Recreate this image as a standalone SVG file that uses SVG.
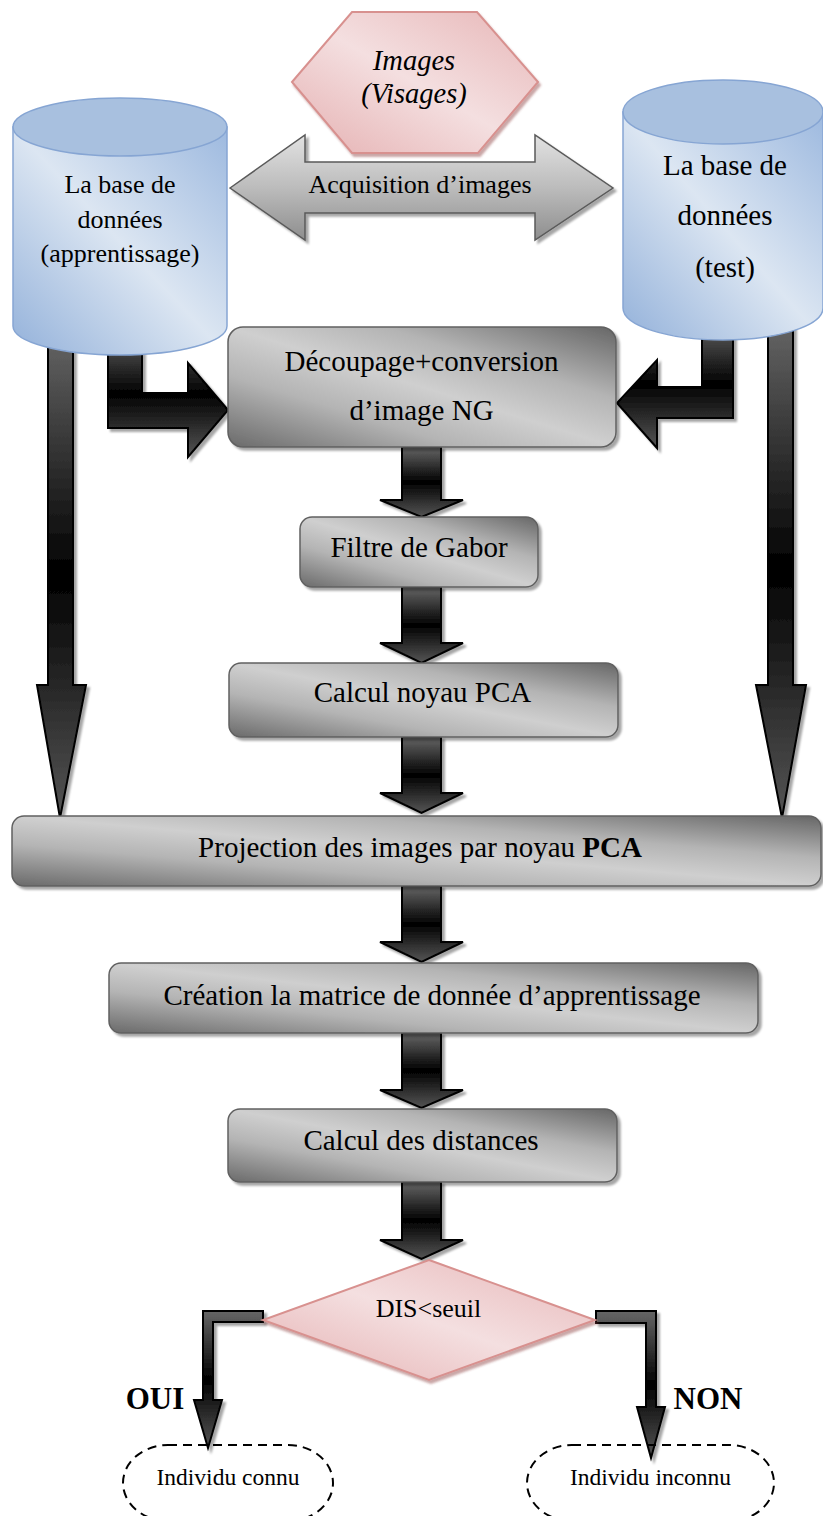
<svg xmlns="http://www.w3.org/2000/svg" width="823" height="1516" viewBox="0 0 823 1516">
<style>
text{font-family:"Liberation Serif","Times New Roman",serif;fill:#000;text-anchor:middle}
.box{fill:url(#boxGrad);stroke:#606060;stroke-width:1.5;filter:url(#sh)}
.blk{fill:url(#arrGrad);stroke:#000;stroke-width:2;stroke-linejoin:miter;filter:url(#sh)}
.cyl{fill:url(#cylGrad);stroke:#86a5d3;stroke-width:1.5}
.cyltop{fill:#a8c0df;stroke:#86a5d3;stroke-width:1.5}
.pink{fill:url(#pinkGrad);stroke:#d8918f;stroke-width:2;filter:url(#shr)}
.dash{fill:none;stroke:#000;stroke-width:2;stroke-dasharray:9 6}
.t29{font-size:29px}
.t26{font-size:26px}
</style>
<defs>
<linearGradient id="boxGrad" x1="0" y1="1" x2="1" y2="0">
<stop offset="0" stop-color="#6a6a6a"/>
<stop offset="0.3" stop-color="#b4b4b4"/>
<stop offset="0.5" stop-color="#cfcfcf"/>
<stop offset="0.7" stop-color="#b4b4b4"/>
<stop offset="1" stop-color="#666666"/>
</linearGradient>
<linearGradient id="arrGrad" x1="0" y1="0" x2="0" y2="1">
<stop offset="0" stop-color="#666666"/>
<stop offset="0.42" stop-color="#111111"/>
<stop offset="0.5" stop-color="#000000"/>
<stop offset="1" stop-color="#555555"/>
</linearGradient>
<linearGradient id="dblGrad" x1="0" y1="0" x2="0" y2="1">
<stop offset="0" stop-color="#e2e2e2"/>
<stop offset="0.5" stop-color="#bcbcbc"/>
<stop offset="1" stop-color="#8e8e8e"/>
</linearGradient>
<linearGradient id="cylGrad" x1="0" y1="1" x2="1" y2="0">
<stop offset="0" stop-color="#93b1da"/>
<stop offset="0.5" stop-color="#dce6f2"/>
<stop offset="1" stop-color="#9db9df"/>
</linearGradient>
<linearGradient id="pinkGrad" x1="0" y1="1" x2="1" y2="0">
<stop offset="0" stop-color="#e5b0b1"/>
<stop offset="0.5" stop-color="#f4dfe0"/>
<stop offset="1" stop-color="#e7b6b7"/>
</linearGradient>
<filter id="sh" x="-10%" y="-10%" width="130%" height="130%">
<feDropShadow dx="3" dy="3" stdDeviation="1.2" flood-color="#000" flood-opacity="0.35"/>
</filter>
<filter id="shr" x="-10%" y="-10%" width="130%" height="130%">
<feDropShadow dx="2" dy="3" stdDeviation="1" flood-color="#8a3a3a" flood-opacity="0.45"/>
</filter>
</defs>

<g id="connectors">
<!-- acquisition double arrow -->
<g id="acquisition">
<polygon points="230,188 305,135 305,162 535,162 535,135 613,188 535,240 535,213 305,213 305,240" fill="url(#dblGrad)" stroke="#5a5a5a" stroke-width="1.5" filter="url(#sh)"/>
<text class="t26" x="420" y="193">Acquisition d’images</text>
</g>
<!-- long side arrows -->
<polygon class="blk" points="48,330 73,330 73,685 86,685 60,818 37,685 48,685"/>
<polygon class="blk" points="768,320 793,320 793,685 806,685 782,818 756,685 768,685"/>
<!-- L arrows into box 1 -->
<polygon class="blk" points="108,330 108,428 188,428 188,457 228,410 188,363 188,393 142,393 142,330"/>
<polygon class="blk" points="733,320 733,418 657,418 657,448 617,403 657,360 657,387 702,387 702,320"/>
<!-- central chain -->
<polygon class="blk" points="402,447 441,447 441,500 463,500 421.5,517 380,500 402,500"/>
<polygon class="blk" points="402,587 441,587 441,643 463,643 421.5,663 380,643 402,643"/>
<polygon class="blk" points="402,737 441,737 441,793 463,793 421.5,813 380,793 402,793"/>
<polygon class="blk" points="402,886 441,886 441,942 463,942 421.5,962 380,942 402,942"/>
<polygon class="blk" points="402,1033 441,1033 441,1090 463,1090 421.5,1108 380,1090 402,1090"/>
<polygon class="blk" points="402,1182 441,1182 441,1240 463,1240 421.5,1259 380,1240 402,1240"/>
<!-- decision branches -->
<polygon class="blk" points="263,1311 203,1311 203,1400 194,1400 208,1448 222,1400 213,1400 213,1322 263,1322"/>
<polygon class="blk" points="596,1311 656,1311 656,1407 665,1407 651,1458 637,1407 646,1407 646,1323 596,1323"/>
<text x="155" y="1409" font-size="31" font-weight="bold">OUI</text>
<text x="708" y="1409" font-size="31" font-weight="bold">NON</text>
</g>

<g id="images">
<polygon class="pink" points="292,82 352,12 477,12 538,82 478,153 352,153"/>
<text x="414" y="70" font-size="28.5" font-style="italic">Images</text>
<text x="414" y="103" font-size="28.5" font-style="italic">(Visages)</text>
</g>

<g id="base-apprentissage">
<path class="cyl" d="M13,127 V326 A107,29 0 0 0 227,326 V127 Z"/>
<ellipse class="cyltop" cx="120" cy="127" rx="107" ry="29"/>
<text class="t26" x="120" y="193">La base de</text>
<text class="t26" x="120" y="228">données</text>
<text class="t26" x="120" y="262">(apprentissage)</text>
</g>

<g id="base-test">
<path class="cyl" d="M623,112 V308 A100,32 0 0 0 823,308 V112 Z"/>
<ellipse class="cyltop" cx="723" cy="112" rx="100" ry="32"/>
<text class="t29" x="725" y="175">La base de</text>
<text class="t29" x="725" y="225">données</text>
<text class="t29" x="725" y="277">(test)</text>
</g>

<g id="decoupage">
<rect class="box" x="228" y="327" width="388" height="120" rx="15"/>
<text class="t29" x="421.5" y="371">Découpage+conversion</text>
<text class="t29" x="421.5" y="420">d’image NG</text>
</g>

<g id="gabor">
<rect class="box" x="300" y="517" width="238" height="70" rx="12"/>
<text class="t29" x="419" y="557">Filtre de Gabor</text>
</g>

<g id="noyau-pca">
<rect class="box" x="229" y="663" width="389" height="74" rx="12"/>
<text class="t29" x="422.5" y="702">Calcul noyau PCA</text>
</g>

<g id="projection">
<rect class="box" x="12" y="816" width="809" height="70" rx="12"/>
<text class="t29" x="420" y="857">Projection des images par noyau <tspan font-weight="bold">PCA</tspan></text>
</g>

<g id="matrice">
<rect class="box" x="109" y="963" width="649" height="70" rx="12"/>
<text class="t29" x="432" y="1005">Création la matrice de donnée d’apprentissage</text>
</g>

<g id="distances">
<rect class="box" x="228" y="1109" width="389" height="73" rx="12"/>
<text class="t29" x="421" y="1150">Calcul des distances</text>
</g>

<g id="decision">
<polygon class="pink" points="429,1260 595,1320 429,1380 263,1320"/>
<text class="t26" x="428.5" y="1317">DIS&lt;seuil</text>
</g>

<g id="connu">
<rect class="dash" x="123" y="1445" width="210" height="76" rx="45" ry="38"/>
<text x="228" y="1485" font-size="23.5">Individu connu</text>
</g>

<g id="inconnu">
<rect class="dash" x="527" y="1445" width="247" height="76" rx="45" ry="38"/>
<text x="650.5" y="1485" font-size="23.5">Individu inconnu</text>
</g>
</svg>
